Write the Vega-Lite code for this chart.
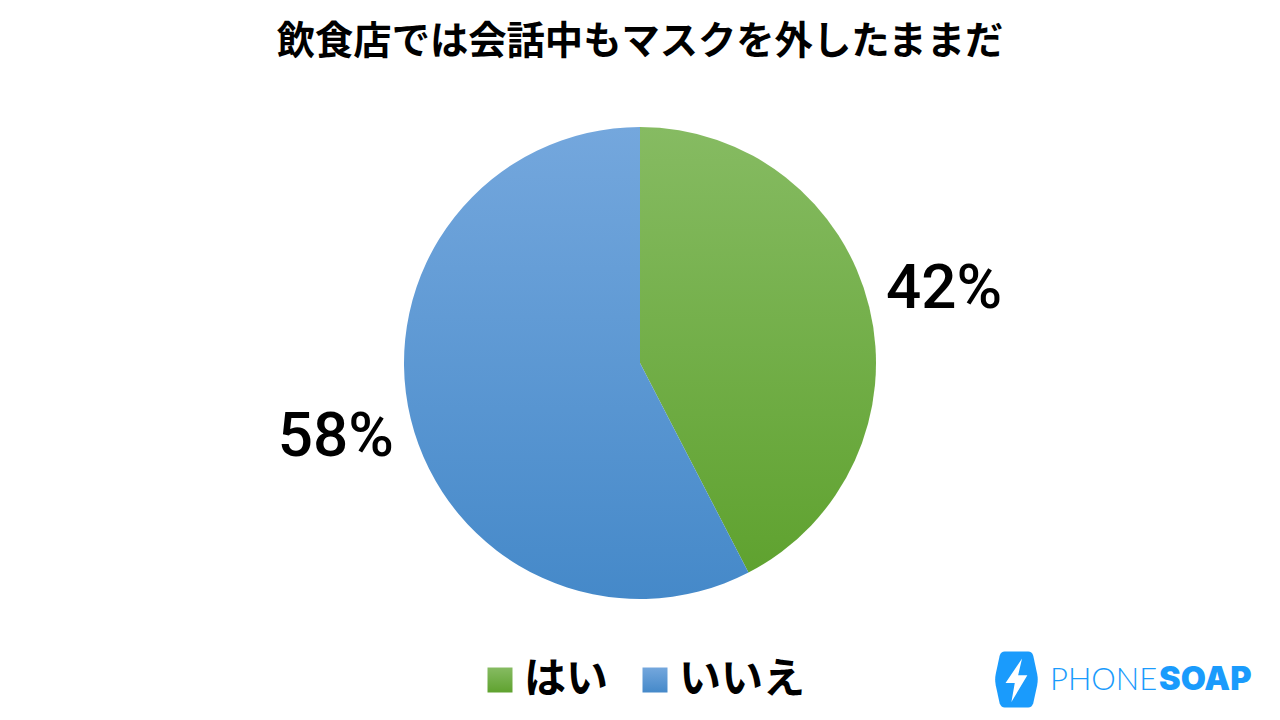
{
  "$schema": "https://vega.github.io/schema/vega-lite/v6.json",
  "width": 1280,
  "height": 726,
  "padding": 0,
  "autosize": "none",
  "background": "white",
  "title": {
    "text": "飲食店では会話中もマスクを外したままだ",
    "font": "Noto Sans CJK JP",
    "fontSize": 38.3,
    "fontWeight": "bold",
    "color": "#000000",
    "anchor": "middle",
    "frame": "group",
    "baseline": "top",
    "offset": -62
  },
  "config": {"view": {"stroke": null}},
  "data": {
    "values": [
      {"answer": "はい", "percent": 42.4, "label": "42%", "rank": 1},
      {"answer": "いいえ", "percent": 57.6, "label": "58%", "rank": 2}
    ]
  },
  "layer": [
    {
      "encoding": {
        "theta": {"field": "percent", "type": "quantitative", "stack": true},
        "order": {"field": "rank", "type": "ordinal"}
      },
      "layer": [
        {
          "mark": {
            "type": "arc",
            "outerRadius": 236,
            "color": {"gradient": "linear", "x1": 0, "y1": 0, "x2": 0, "y2": 1, "stops": [{"offset": 0, "color": "#86bb62"}, {"offset": 1, "color": "#5fa22f"}]}
          },
          "encoding": {
            "opacity": {"condition": {"test": "datum.answer === 'はい'", "value": 1}, "value": 0}
          }
        },
        {
          "mark": {
            "type": "arc",
            "outerRadius": 236,
            "color": {"gradient": "linear", "x1": 0, "y1": 0, "x2": 0, "y2": 1, "stops": [{"offset": 0, "color": "#74a7dd"}, {"offset": 1, "color": "#4589c9"}]}
          },
          "encoding": {
            "opacity": {"condition": {"test": "datum.answer === 'いいえ'", "value": 1}, "value": 0}
          }
        },
        {
          "mark": {"type": "text", "font": "Roboto", "fontSize": 62, "fontWeight": 500, "color": "#000000"},
          "encoding": {
            "radius": {"value": 313},
            "text": {"field": "label", "type": "nominal"}
          }
        }
      ]
    },
    {
      "mark": {"type": "point", "filled": true, "size": 0, "opacity": 1},
      "encoding": {
        "shape": {
          "field": "answer",
          "type": "nominal",
          "scale": {"domain": ["はい", "いいえ"], "range": ["square", "square"]},
          "legend": {
            "title": null,
            "orient": "none",
            "direction": "horizontal",
            "legendX": 479,
            "legendY": 659,
            "symbolSize": 625,
            "symbolStrokeWidth": 0,
            "symbolOpacity": 1,
            "labelFont": "Noto Sans CJK JP",
            "labelFontSize": 42,
            "labelFontWeight": "bold",
            "labelColor": "#000000",
            "labelOffset": 3,
            "columnPadding": 25,
            "encoding": {
              "symbols": {
                "fill": {
                  "condition": {"test": "datum.value === 'はい'", "value": {"gradient": "linear", "x1": 0, "y1": 0, "x2": 0, "y2": 1, "stops": [{"offset": 0, "color": "#86bb62"}, {"offset": 1, "color": "#5fa22f"}]}},
                  "value": {"gradient": "linear", "x1": 0, "y1": 0, "x2": 0, "y2": 1, "stops": [{"offset": 0, "color": "#74a7dd"}, {"offset": 1, "color": "#4589c9"}]}
                }
              }
            }
          }
        }
      }
    },
    {
      "data": {"values": [{"part": "icon"}]},
      "mark": {
        "type": "point",
        "filled": true,
        "opacity": 1,
        "color": "#1a9bfc",
        "size": 3136,
        "shape": "M-.42 -1 L.42 -1 Q.55 -1 .6 -.85 L.74 -.2 Q.78 0 .74 .2 L.6 .85 Q.55 1 .42 1 L-.42 1 Q-.55 1 -.6 .85 L-.74 .2 Q-.78 0 -.74 -.2 L-.6 -.85 Q-.55 -1 -.42 -1 Z"
      },
      "encoding": {
        "x": {"datum": 0.7941, "type": "quantitative", "scale": {"domain": [0, 1]}, "axis": null},
        "y": {"datum": 0.936, "type": "quantitative", "scale": {"domain": [0, 1], "reverse": true}, "axis": null}
      }
    },
    {
      "data": {"values": [{"part": "bolt"}]},
      "mark": {
        "type": "point",
        "filled": true,
        "opacity": 1,
        "color": "#ffffff",
        "size": 3136,
        "shape": "M.2 -.75 L-.39 .12 L-.06 .12 L-.18 .8 L.39 -.15 L.06 -.15 Z"
      },
      "encoding": {
        "x": {"datum": 0.7941, "type": "quantitative", "scale": {"domain": [0, 1]}, "axis": null},
        "y": {"datum": 0.936, "type": "quantitative", "scale": {"domain": [0, 1], "reverse": true}, "axis": null}
      }
    },
    {
      "data": {"values": [{"part": "PHONE"}]},
      "mark": {"type": "text", "font": "Lato", "fontSize": 31, "fontWeight": 300, "color": "#1a9bfc", "align": "left", "baseline": "alphabetic"},
      "encoding": {
        "x": {"datum": 0.8203, "type": "quantitative", "scale": {"domain": [0, 1]}, "axis": null},
        "y": {"datum": 0.9504, "type": "quantitative", "scale": {"domain": [0, 1], "reverse": true}, "axis": null},
        "text": {"field": "part", "type": "nominal"}
      }
    },
    {
      "data": {"values": [{"part": "SOAP"}]},
      "mark": {"type": "text", "font": "Inter", "fontSize": 32.5, "fontWeight": 900, "color": "#1a9bfc", "align": "left", "baseline": "alphabetic"},
      "encoding": {
        "x": {"datum": 0.9055, "type": "quantitative", "scale": {"domain": [0, 1]}, "axis": null},
        "y": {"datum": 0.9504, "type": "quantitative", "scale": {"domain": [0, 1], "reverse": true}, "axis": null},
        "text": {"field": "part", "type": "nominal"}
      }
    }
  ]
}
